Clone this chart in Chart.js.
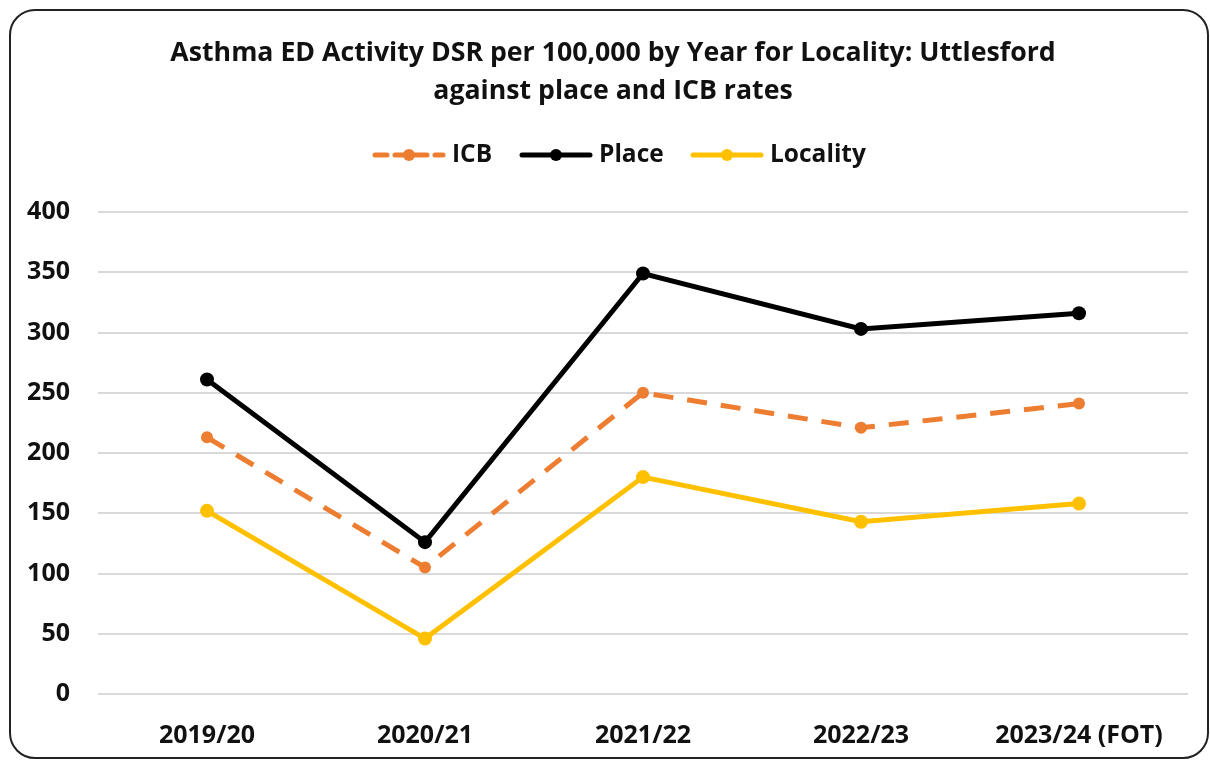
<!DOCTYPE html>
<html><head><meta charset="utf-8">
<script src="https://cdn.jsdelivr.net/npm/chart.js@4/dist/chart.umd.min.js"></script>
<style>
html,body{margin:0;padding:0;background:#fff;width:1210px;height:763px;overflow:hidden;}
#frame{position:absolute;left:9px;top:9px;width:1200px;height:750px;border:2px solid #222;border-radius:26px;box-sizing:border-box;}
#wrap{position:absolute;left:0;top:0;width:1210px;height:763px;}
</style></head>
<body>
<div id="frame"></div>
<div id="wrap"><canvas id="c" width="1210" height="763"></canvas></div>
<script>
const categories = ["2019/20","2020/21","2021/22","2022/23","2023/24 (FOT)"];
const icb = [213, 105, 250, 221, 241];
const place = [261, 126, 349, 303, 316];
const locality = [152, 46, 180, 143, 158];
const yTicks = [0,50,100,150,200,250,300,350,400];
const titleLines = ["Asthma ED Activity DSR per 100,000 by Year for Locality: Uttlesford","against place and ICB rates"];
const FONT = "'Open Sans', sans-serif";

const overlay = {
  id:'overlay',
  afterDraw(chart){
    const ctx = chart.ctx;
    ctx.save();
    ctx.fillStyle = '#111';
    ctx.font = "bold 26.7px " + FONT;
    ctx.textAlign = 'center'; ctx.textBaseline = 'middle';
    ctx.fillText(titleLines[0], 613, 53);
    ctx.fillText(titleLines[1], 613, 91);
    const items = [
      {label:'ICB', color:'#ED7D31', dash:[12,8], x:373},
      {label:'Place', color:'#000000', dash:[], x:520},
      {label:'Locality', color:'#FFC000', dash:[], x:691}
    ];
    const y = 155;
    items.forEach(it=>{
      ctx.strokeStyle = it.color; ctx.lineWidth = 5; ctx.lineCap='round';
      ctx.setLineDash(it.dash);
      ctx.beginPath(); ctx.moveTo(it.x+2, y); ctx.lineTo(it.x+70, y); ctx.stroke();
      ctx.setLineDash([]);
      ctx.fillStyle = it.color;
      ctx.beginPath(); ctx.arc(it.x+36, y, 6, 0, Math.PI*2); ctx.fill();
      ctx.fillStyle = '#111';
      ctx.font = "bold 24.5px " + FONT;
      ctx.textAlign = 'left';
      ctx.fillText(it.label, it.x+79, y);
    });
    ctx.restore();
  }
};

new Chart(document.getElementById('c'), {
  type:'line',
  data:{
    labels: categories,
    datasets:[
      {label:'ICB', data:icb, borderColor:'#ED7D31', backgroundColor:'#ED7D31', borderWidth:5, borderDash:[20,14], pointRadius:6, pointHoverRadius:6, pointBackgroundColor:'#ED7D31', pointBorderWidth:0, tension:0},
      {label:'Place', data:place, borderColor:'#000000', backgroundColor:'#000000', borderWidth:5, pointRadius:7, pointHoverRadius:7, pointBorderWidth:0, tension:0},
      {label:'Locality', data:locality, borderColor:'#FFC000', backgroundColor:'#FFC000', borderWidth:5, pointRadius:7, pointHoverRadius:7, pointBorderWidth:0, tension:0}
    ]
  },
  options:{
    responsive:false, animation:false,
    layout:{padding:{top:212, right:22, bottom:0, left:0}},
    plugins:{legend:{display:false}, title:{display:false}, tooltip:{enabled:false}},
    scales:{
      x:{
        offset:true,
        grid:{display:false, drawTicks:false},
        border:{display:false},
        ticks:{color:'#111', font:{family:FONT, size:25, weight:'bold'}, padding:27, maxRotation:0},
        afterFit(s){ s.height = 69; }
      },
      y:{
        min:0, max:400,
        afterBuildTicks(s){ s.ticks = yTicks.map(v=>({value:v})); },
        grid:{color:'#D9D9D9', lineWidth:2, drawTicks:false},
        border:{display:false},
        ticks:{color:'#111', font:{family:FONT, size:25, weight:'bold'}, padding:28},
        afterFit(s){ s.width = 98; }
      }
    }
  },
  plugins:[overlay]
});
</script>
</body></html>
